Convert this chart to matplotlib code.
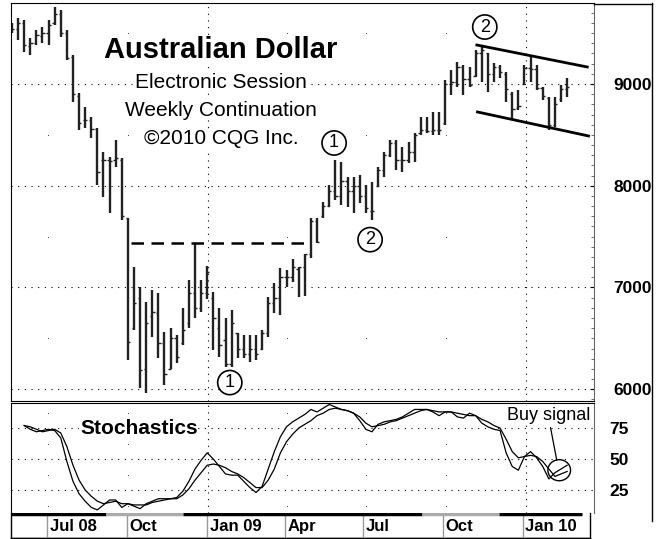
import matplotlib.pyplot as plt
import matplotlib.dates as mdates
import numpy as np
import pandas as pd
from matplotlib.lines import Line2D
from matplotlib.patches import Ellipse

plt.rcParams['font.family'] = ['Liberation Sans', 'DejaVu Sans']

# Weekly bars, Australian Dollar electronic session
weeks = pd.date_range('2008-05-21', periods=92, freq='7D')
highs = [9600, 9650, 9630, 9450, 9530, 9560, 9630, 9757, 9727, 9530,
         9285, 8910, 8775, 8680, 8570, 8330, 8280, 8450, 8270, 7683,
         7200, 7005, 6857, 6975, 6946, 6560, 6600, 6533, 6798, 7073,
         7437, 7073, 7211, 6955, 6798, 6700, 6778, 6552, 6533, 6533,
         6533, 6582, 6906, 7044, 7191, 7172, 7280, 7201, 7330, 7683,
         7683, 7840, 8007, 8253, 8233, 8086, 8086, 8105, 8007, 8037,
         8184, 8331, 8449, 8449, 8380, 8430, 8518, 8676, 8676, 8725,
         8725, 9040, 9138, 9216, 9187, 9167, 9334, 9383, 9305, 9206,
         9187, 9118, 8921, 8941, 9187, 9285, 9187, 8971, 8872, 8872,
         8990, 9059]
lows = [9500, 9430, 9315, 9285, 9380, 9400, 9380, 9580, 9460, 9236,
        8823, 8550, 8570, 8470, 8010, 7890, 7730, 8180, 7660, 6287,
        6580, 6010, 5962, 6513, 6307, 6040, 6200, 6257, 6434, 6600,
        6700, 6759, 6887, 6385, 6316, 6218, 6218, 6306, 6306, 6267,
        6287, 6385, 6513, 6749, 6729, 7005, 7054, 6906, 6920, 7290,
        7437, 7683, 7791, 7860, 7810, 7791, 7732, 7830, 7732, 7663,
        7987, 8086, 8282, 8154, 8135, 8223, 8233, 8499, 8518, 8499,
        8499, 8597, 8892, 8971, 8892, 8971, 9069, 9020, 8921, 9020,
        9059, 8823, 8646, 8744, 8990, 9020, 8941, 8843, 8548, 8577,
        8823, 8872]
opens = [9560, 9540, 9600, 9370, 9400, 9470, 9500, 9600, 9690, 9500,
         9270, 8880, 8650, 8650, 8560, 8250, 8250, 8250, 8250, 7680,
         6600, 6900, 6200, 6720, 6750, 6450, 6200, 6500, 6450, 6650,
         6950, 6800, 6950, 6900, 6600, 6480, 6250, 6550, 6400, 6350,
         6400, 6400, 6550, 6850, 6900, 7100, 7100, 7180, 7200, 7330,
         7650, 7700, 7800, 7950, 7900, 8050, 7950, 8000, 7900, 7750,
         8000, 8150, 8300, 8420, 8250, 8250, 8330, 8520, 8550, 8540,
         8550, 8620, 9000, 9020, 9170, 9050, 9080, 9300, 9300, 9100,
         9170, 9100, 8900, 8760, 9000, 9160, 9150, 8960, 8860, 8600,
         8850, 8950]
closes = [9540, 9600, 9380, 9400, 9480, 9500, 9580, 9690, 9500, 9260,
          8900, 8620, 8650, 8560, 8130, 8250, 8240, 8270, 7700, 6460,
          6850, 6190, 6650, 6760, 6450, 6150, 6500, 6320, 6580, 6950,
          6800, 6950, 7150, 6700, 6430, 6250, 6650, 6400, 6350, 6400,
          6350, 6550, 6850, 6900, 7100, 7100, 7200, 7200, 7330, 7650,
          7450, 7800, 7950, 7900, 8050, 7950, 8000, 7900, 7780, 7750,
          8150, 8300, 8420, 8250, 8250, 8330, 8500, 8550, 8540, 8550,
          8550, 9000, 9020, 9170, 9050, 8990, 9300, 9330, 9100, 9170,
          9120, 8950, 8750, 8780, 9160, 9150, 8960, 8880, 8600, 8800,
          8950, 8970]

# Stochastics (from week 3 on)
stoch_fast = [77, 74, 72, 73, 74, 73, 67, 48, 32, 22,
              16, 11, 9, 13, 17, 17, 11, 14, 12, 10,
              14, 16, 18, 18, 18, 19, 24, 32, 42, 49,
              55, 50, 44, 38, 37, 37, 32, 27, 23, 28,
              42, 56, 68, 76, 80, 83, 86, 90, 88, 91,
              94, 92, 90, 89, 87, 81, 74, 72, 78, 80,
              81, 82, 84, 87, 90, 90, 90, 88, 85, 88,
              88, 84, 83, 87, 85, 79, 76, 74, 73, 55,
              44, 41, 52, 56, 51, 44, 34, 39, 42, 45]
stoch_slow = [77, 76, 74, 72, 73, 74, 71, 60, 45, 33,
              25, 20, 16, 14, 15, 16, 14, 14, 13, 13,
              13, 15, 16, 17, 18, 18, 21, 26, 33, 39,
              45, 46, 45, 43, 40, 38, 35, 31, 27, 27,
              33, 42, 55, 64, 70, 75, 78, 81, 85, 87,
              90, 91, 90, 89, 87, 84, 79, 76, 77, 78,
              80, 81, 83, 85, 87, 89, 90, 89, 88, 88,
              88, 87, 86, 85, 85, 82, 80, 77, 75, 66,
              56, 51, 52, 53, 52, 48, 42, 36, 38, 40]

quarters = pd.to_datetime(['2008-07-01', '2008-10-01', '2009-01-01', '2009-04-01',
                           '2009-07-01', '2009-10-01', '2010-01-01'])
quarter_labels = ['Jul 08', 'Oct', 'Jan 09', 'Apr', 'Jul', 'Oct', 'Jan 10']
years = pd.to_datetime(['2009-01-01', '2010-01-01'])

W, H = 658, 539


def frac(x0, y0, x1, y1):
    return [x0 / W, 1 - y1 / H, (x1 - x0) / W, (y1 - y0) / H]


def wk(i):
    # position of (fractional) bar number i, 1-based
    return mdates.date2num(weeks[0]) + (i - 1) * 7


fig = plt.figure(figsize=(6.58, 5.39), dpi=100)
ax = fig.add_axes(frac(11, 3, 594, 401))
ax2 = fig.add_axes(frac(11, 403, 594, 513), sharex=ax)
ax3 = fig.add_axes(frac(11, 513, 590, 538), sharex=ax)

x = mdates.date2num(weeks)
dot = (0, (1, 5))

# ---- price bars ----
ax.vlines(x, lows, highs, color='#222222', lw=1.7)
ax.hlines(opens, x - 2.6, x, color='#222222', lw=1)
ax.hlines(closes, x, x + 2.6, color='#222222', lw=1)

ax.set_xlim(wk(0.84), wk(96.4))
ax.set_ylim(5884, 9796)
for lvl in [6000, 7000, 8000, 9000]:
    ax.axhline(lvl, color='k', lw=0.8, ls=dot, zorder=0)
for d in years:
    ax.axvline(d, color='k', lw=0.8, ls=dot, zorder=0)
qx = [d for d in quarters if d.month != 1]
for lvl in [6500, 7500, 8500, 9500]:
    ax.plot(qx, [lvl] * len(qx), ls='none', marker='s', ms=0.6, mew=0,
            color='#444444', zorder=0)

ax.yaxis.tick_right()
ax.set_yticks([6000, 7000, 8000, 9000])
ax.set_yticks(np.arange(5900, 9800, 100), minor=True)
ax.tick_params(axis='y', which='major', direction='in', length=3, pad=14,
               labelsize=12.5)
ax.tick_params(axis='y', which='minor', direction='in', length=2, color='#555555')
for t in ax.get_yticklabels():
    t.set_fontweight('bold')
ax.tick_params(axis='x', which='both', bottom=False, labelbottom=False)
ax.spines['right'].set_color('#666666')

# dashed resistance and channel
ax.plot([wk(20.5), wk(49.9)], [7437, 7437], color='k', lw=1.8, ls=(0, (5, 3)))
ax.plot([wk(77.2), wk(95.3)], [9383, 9167], color='k', lw=2)
ax.plot([wk(77.3), wk(95.5)], [8725, 8489], color='k', lw=2)

# wave labels
for i, p, s in [(53.8, 8420, '1'), (59.7, 7470, '2'), (36.7, 6065, '1'), (78.5, 9560, '2')]:
    ax.text(wk(i), p, s, ha='center', va='center', fontsize=13,
            bbox=dict(boxstyle='circle,pad=0.2', fc='white', ec='k', lw=1.2))


# title block (axes fractions from pixel positions)
def axpos(px, py):
    return (px - 11) / 583, 1 - (py - 3) / 398


ax.text(*axpos(221, 50), 'Australian Dollar', transform=ax.transAxes,
        ha='center', va='center', fontsize=21, fontweight='bold',
        bbox=dict(fc='white', ec='none', pad=1))
for yy, s in [(82, 'Electronic Session'), (110, 'Weekly Continuation'), (139, '©2010 CQG Inc.')]:
    ax.text(*axpos(221, yy), s, transform=ax.transAxes,
            ha='center', va='center', fontsize=15,
            bbox=dict(fc='white', ec='none', pad=0.5))

# ---- stochastics ----
xs = x[2:]
ax2.plot(xs, stoch_fast, color='k', lw=0.9)
ax2.plot(xs, stoch_slow, color='k', lw=0.9)
ax2.set_ylim(6.5, 95.2)
for lvl in [25, 50, 75]:
    ax2.axhline(lvl, color='k', lw=0.8, ls=dot, zorder=0)
for d in years:
    ax2.axvline(d, color='k', lw=0.8, ls=dot, zorder=0)
for lvl in [12.5, 37.5, 62.5, 87.5]:
    ax2.plot(qx, [lvl] * len(qx), ls='none', marker='s', ms=0.6, mew=0,
             color='#444444', zorder=0)
ax2.yaxis.tick_right()
ax2.set_yticks([25, 50, 75])
ax2.tick_params(axis='y', direction='in', length=0, pad=11, labelsize=12.5)
for t in ax2.get_yticklabels():
    t.set_fontweight('bold')
ax2.tick_params(axis='x', which='both', bottom=False, labelbottom=False)
ax2.spines['right'].set_color('#666666')
ax2.spines['bottom'].set_visible(False)
ax2.text(80 / 583 - 11 / 583, 1 - 25 / 110, 'Stochastics', transform=ax2.transAxes,
         ha='left', va='center', fontsize=15, fontweight='bold',
         bbox=dict(fc='white', ec='none', pad=0.5))

ax2.add_patch(Ellipse((wk(90.7), 41), 26, 17, fill=False, ec='k', lw=1))
ax2.annotate('Buy signal', xy=(wk(90.3), 49), xytext=(wk(88.9), 85),
             ha='center', va='center', fontsize=13,
             bbox=dict(fc='white', ec='none', pad=0.5),
             arrowprops=dict(arrowstyle='-', color='k', lw=0.9, shrinkA=2, shrinkB=0))

# ---- date strip ----
ax3.set_ylim(0, 1)
ax3.set_yticks([])
ax3.tick_params(axis='x', which='both', bottom=False, labelbottom=False)
for d, lab in zip(quarters, quarter_labels):
    ax3.axvline(d, ymin=0.08, ymax=0.92, color='#999999', lw=1)
    ax3.annotate(lab, xy=(d, 0.45), xytext=(2, 0), textcoords='offset points',
                 ha='left', va='center', fontsize=12, fontweight='bold')
for s in ax3.spines.values():
    s.set_linewidth(1)
ax3.spines['top'].set_visible(False)
seg = [('2008-05-01', '2008-09-07', 'k'), ('2008-09-07', '2008-12-05', '#aaaaaa'),
       ('2008-12-05', '2009-09-07', 'k'), ('2009-09-07', '2009-12-05', '#aaaaaa'),
       ('2009-12-05', '2010-03-10', 'k')]
for a, b, c in seg:
    ax3.plot(pd.to_datetime([a, b]), [0.97, 0.97], color=c, lw=2.5, clip_on=True,
             solid_capstyle='butt')


# outer frame
def fline(x0, y0, x1, y1):
    fig.add_artist(Line2D([x0 / W, x1 / W], [1 - y0 / H, 1 - y1 / H], color='k', lw=1))


fline(594, 3.5, 652, 3.5)
fline(652, 3, 652, 521)
fline(11, 538, 590, 538)

fig.savefig('out.png', dpi=100)
